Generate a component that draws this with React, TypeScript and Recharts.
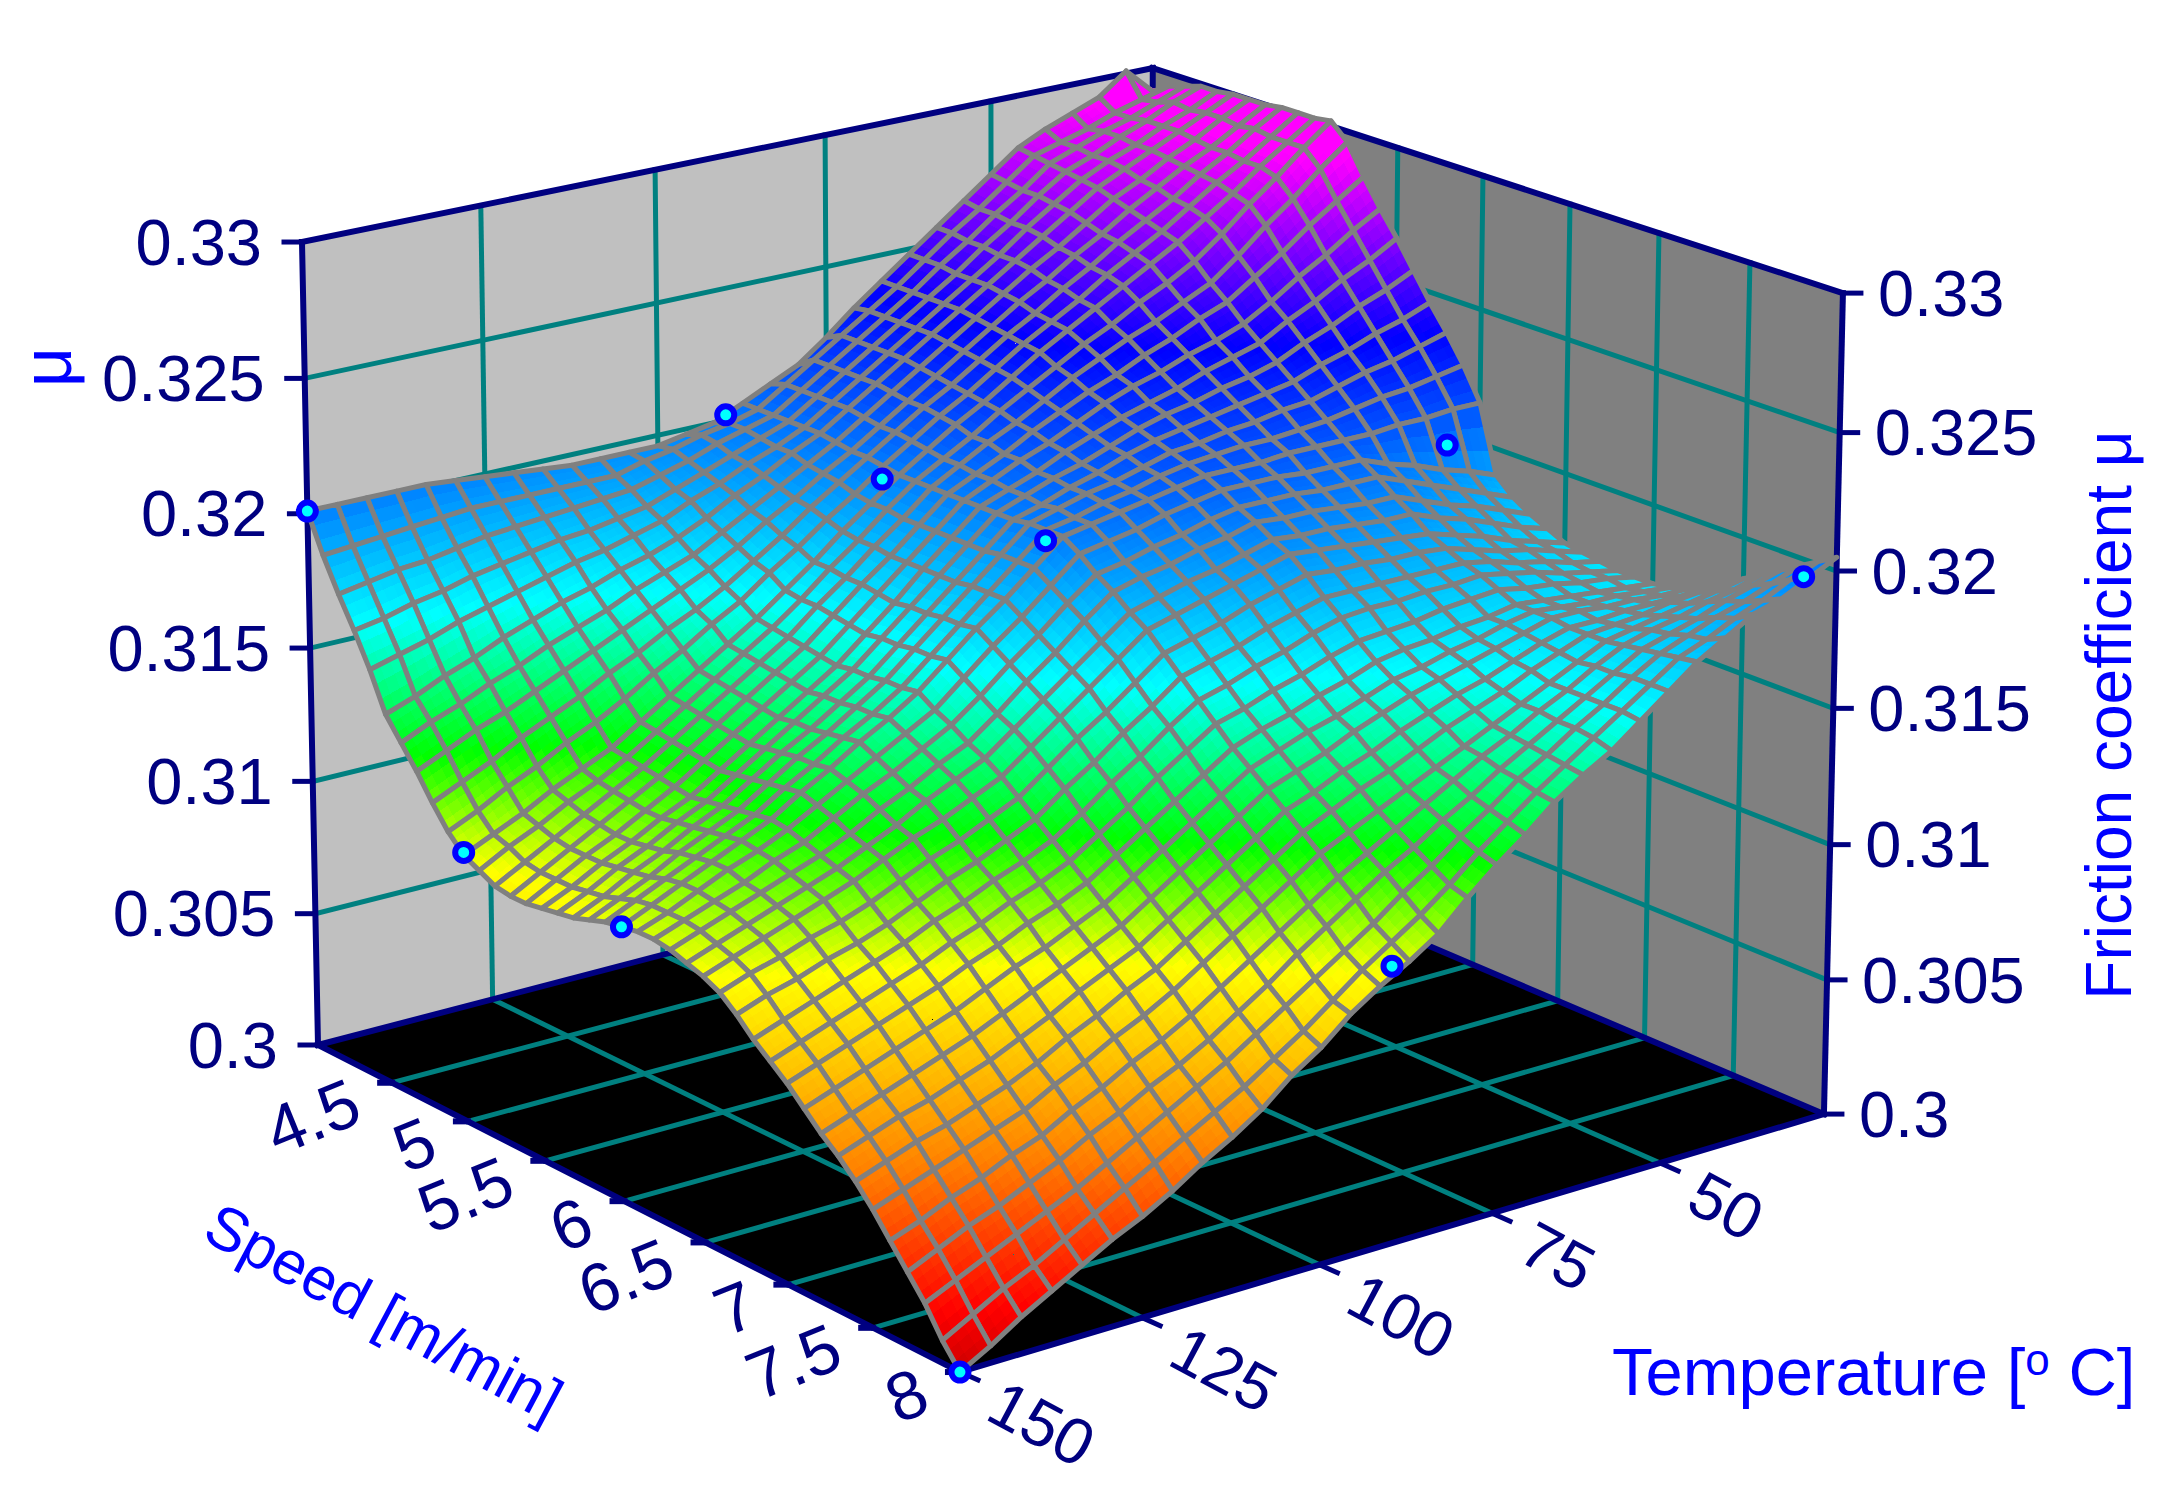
import React from 'react';
import { ScatterChart, Scatter, XAxis, YAxis } from 'recharts';

const W = 2178;
const H = 1486;

// tick labels
const muTicks = [0.3, 0.305, 0.31, 0.315, 0.32, 0.325, 0.33];
const speedTicks = [4.5, 5, 5.5, 6, 6.5, 7, 7.5, 8];
const tempTicks = [150, 125, 100, 75, 50];

// measured points (friction coefficient)
const pointSpeeds = [4, 5, 6, 8, 4, 5, 6, 8, 6, 8];
const pointTemps = [150, 150, 150, 150, 90, 90, 90, 90, 30, 30];
const pointMu = [0.3201, 0.31, 0.31, 0.3, 0.3202, 0.3201, 0.3202, 0.31, 0.3202, 0.3201];

// surface: mu above 0.3 in units of 0.0001
// one row per temperature step (150 down to 25), one column per speed step (4 to 8)
const muRows = [
  [201,187,175,164,152,138,130,122,113,105,99,96,93,92,92,93,94,95,97,99,100,101,101,100,98,96,93,88,82,77,72,66,60,55,49,42,34,26,18,8,0],
  [201,188,177,166,155,142,135,127,118,110,104,102,99,98,98,98,99,100,102,104,105,105,105,104,102,100,97,92,86,81,76,70,64,59,53,46,38,31,23,14,6],
  [201,189,179,169,158,147,139,132,123,116,109,107,105,104,104,104,105,106,107,109,110,110,109,108,106,104,100,95,90,85,80,74,68,63,57,50,43,36,28,20,13],
  [201,190,180,171,162,151,144,136,129,121,115,113,111,110,109,109,110,111,113,114,115,115,113,112,110,108,104,99,94,89,84,78,72,66,60,54,47,40,33,25,19],
  [201,191,182,174,165,156,148,141,134,127,120,118,117,116,115,115,116,117,118,119,120,119,118,116,114,112,107,102,98,93,88,82,76,70,64,58,52,45,38,31,25],
  [200,192,184,176,168,160,153,146,139,132,125,124,123,122,121,120,121,122,123,124,125,124,122,120,118,116,111,106,102,97,92,86,80,74,68,62,56,50,43,37,31],
  [199,192,185,178,171,164,157,151,145,138,132,131,130,129,128,127,128,129,130,131,132,130,128,125,123,121,116,111,107,102,97,91,85,79,73,68,62,56,49,43,36],
  [198,192,186,180,174,167,161,156,150,145,139,138,137,136,135,134,135,136,137,137,138,136,134,131,128,126,121,116,111,106,101,96,90,84,79,73,67,61,55,49,42],
  [197,192,187,181,176,171,166,161,156,151,146,145,144,143,142,141,142,142,143,144,145,142,139,136,134,130,125,120,116,111,106,100,95,90,84,79,73,67,61,55,49],
  [196,192,188,183,179,174,170,166,161,158,153,152,151,150,149,148,149,149,150,150,151,148,145,142,139,135,130,125,120,115,110,105,100,95,90,84,78,72,67,61,55],
  [196,192,189,185,182,178,174,171,167,164,160,159,158,157,156,155,156,156,157,157,158,154,151,147,144,140,135,130,125,120,115,110,105,100,95,90,84,78,73,67,62],
  [196,195,192,189,187,183,180,177,174,172,168,167,167,166,165,164,165,165,166,166,167,163,159,155,152,148,143,138,132,127,122,117,112,107,102,97,91,85,80,74,71],
  [196,197,195,193,191,189,186,184,181,179,176,176,175,175,174,173,174,174,175,175,176,172,168,164,160,156,151,145,140,134,129,124,119,114,109,104,98,92,87,81,78],
  [198,200,199,197,196,194,192,190,189,187,185,184,184,183,183,183,183,183,184,184,184,180,176,172,168,164,158,153,147,142,136,131,126,121,116,111,105,100,94,89,87],
  [200,202,202,201,200,200,198,197,196,194,193,193,192,192,192,192,192,192,193,193,193,189,185,181,176,172,166,160,155,149,143,138,133,128,123,118,112,107,101,97,94],
  [205,205,205,205,205,205,204,203,203,202,201,201,201,201,201,201,201,201,202,202,202,198,193,189,184,180,174,168,162,156,150,145,140,135,130,125,119,114,108,104,100],
  [210,212,212,212,212,212,211,210,210,209,208,207,207,206,206,205,205,204,205,204,204,200,195,192,187,183,177,171,165,159,154,149,144,139,135,130,125,121,116,111,107],
  [215,219,219,219,219,219,218,217,217,216,215,213,213,211,211,209,209,208,208,207,206,202,198,194,190,186,180,174,169,163,157,153,148,144,140,135,131,127,123,119,117],
  [223,226,226,226,226,226,225,224,223,222,221,220,218,217,215,214,212,211,210,209,208,205,200,197,192,189,184,178,172,166,161,156,153,148,144,140,137,134,131,128,126],
  [232,233,233,233,233,233,232,231,230,229,228,226,224,222,220,218,216,215,213,212,210,207,203,199,195,192,187,181,176,170,164,160,157,153,149,145,143,140,138,136,134],
  [240,240,240,240,240,240,239,238,237,236,235,232,230,227,225,222,220,218,216,214,212,209,205,202,198,195,190,184,179,173,168,164,161,157,154,150,149,147,146,144,143],
  [248,248,248,247,247,247,246,245,243,242,241,238,235,231,229,225,223,220,217,215,212,209,205,201,197,194,189,184,180,174,170,166,164,161,158,155,154,153,152,151,150],
  [256,256,255,255,254,254,253,251,250,248,247,243,240,236,232,228,225,222,219,216,212,209,205,201,197,193,189,184,180,175,171,169,167,164,162,160,160,159,159,158,156],
  [264,263,263,262,262,261,259,258,256,255,253,249,244,240,236,232,228,224,220,216,213,208,204,200,196,192,188,184,181,177,173,171,170,168,167,165,165,165,165,165,164],
  [272,271,270,270,269,268,266,264,263,261,259,254,249,245,239,235,230,226,222,217,213,208,204,199,195,191,188,184,181,178,174,174,173,172,171,170,171,171,172,172,172],
  [280,279,278,277,276,275,273,271,269,267,265,260,254,249,243,238,233,228,223,218,213,208,204,199,195,190,187,184,182,179,176,176,176,175,175,175,176,177,178,179,180],
  [285,282,282,281,281,280,278,277,275,274,272,268,262,256,249,244,238,232,226,220,213,204,200,195,191,187,184,182,180,177,175,175,176,175,176,177,179,180,182,183,186],
  [289,285,286,286,285,285,284,283,282,281,279,277,271,263,256,249,242,235,229,222,214,201,196,191,188,184,181,179,178,176,174,174,175,176,177,179,181,183,186,188,192],
  [293,289,289,290,290,290,289,288,288,287,287,285,279,271,262,255,247,239,231,223,214,197,192,188,184,180,179,177,175,174,173,174,175,176,179,181,184,187,189,192,195],
  [301,292,293,295,294,295,295,294,295,294,294,294,288,278,269,260,251,242,234,225,215,194,188,184,180,177,176,174,173,173,172,173,174,176,180,183,186,190,193,197,200],
  [291,295,297,299,299,300,300,300,301,301,301,302,296,285,275,266,256,246,237,227,215,190,184,180,177,174,173,172,171,171,171,172,174,177,181,185,189,193,197,201,205],
];

const NAVY = '#000080';
const TEAL = '#008080';
const BLUE = '#0000FF';
const FONT = '"Liberation Sans", Arial, sans-serif';

// box coordinates: speed 4..8, temperature 150..25, mu 0.3..0.33
const project = (speed: number, temp: number, mu: number) => {
  const u = (speed - 4) / 4;
  const v = (150 - temp) / 125;
  const w = (mu - 0.3) / 0.03;
  const d = 1 - 0.08611 * u + 0.06279 * v - 0.02242 * w;
  return {
    x: (318 + 559.3 * u + 904.1 * v - 22.77 * w) / d,
    y: (1045 + 208.9 * u - 165.8 * v - 808.4 * w) / d,
  };
};

// colour scale of the surface
const colourStops: [number, number[]][] = [
  [0, [205, 0, 0]],
  [0.05, [255, 0, 0]],
  [0.17, [255, 128, 0]],
  [0.32, [255, 255, 0]],
  [0.42, [0, 255, 0]],
  [0.55, [0, 255, 255]],
  [0.79, [0, 0, 255]],
  [0.97, [255, 0, 255]],
  [1.1, [255, 0, 255]],
];

const colourAt = (offset: number) => {
  const w = Math.min(1, Math.max(0, offset / 300));
  let k = 0;
  while (k < colourStops.length - 2 && w > colourStops[k + 1][0]) k++;
  const [a, ca] = colourStops[k];
  const [b, cb] = colourStops[k + 1];
  const t = (w - a) / (b - a);
  return `rgb(${ca.map((c, n) => Math.round(c + (cb[n] - c) * t)).join(',')})`;
};

const nodeSpeed = (i: number) => 4 + i / 10;
const nodeTemp = (j: number) => 150 - (j * 125) / 30;
const at = (s: number, t: number, o: number) => project(s, t, 0.3 + o / 10000);

const STEPS = 3;

// one mesh cell: corners plus small coloured pieces inside it
const buildCell = (i: number, j: number) => {
  const s0 = nodeSpeed(i);
  const s1 = nodeSpeed(i + 1);
  const t0 = nodeTemp(j);
  const t1 = nodeTemp(j + 1);
  const o00 = muRows[j][i];
  const o10 = muRows[j][i + 1];
  const o01 = muRows[j + 1][i];
  const o11 = muRows[j + 1][i + 1];
  const node = (a: number, b: number) => {
    const o = o00 * (1 - a) * (1 - b) + o10 * a * (1 - b) + o01 * (1 - a) * b + o11 * a * b;
    return { p: at(s0 + (s1 - s0) * a, t0 + (t1 - t0) * b, o), o };
  };
  const outline = [node(0, 0).p, node(1, 0).p, node(1, 1).p, node(0, 1).p];
  const pieces: { pts: { x: number; y: number }[]; fill: string }[] = [];
  for (let a = 0; a < STEPS; a++) {
    for (let b = 0; b < STEPS; b++) {
      const n = [
        node(a / STEPS, b / STEPS),
        node((a + 1) / STEPS, b / STEPS),
        node((a + 1) / STEPS, (b + 1) / STEPS),
        node(a / STEPS, (b + 1) / STEPS),
      ];
      pieces.push({ pts: n.map((q) => q.p), fill: colourAt((n[0].o + n[1].o + n[2].o + n[3].o) / 4) });
    }
  }
  const c = node(0.5, 0.5).p;
  return { px: c.x, py: c.y, outline, pieces };
};

// far corner first, so nearer cells paint over farther ones
const cells: any[] = [];
for (let i = 0; i < 40; i++) {
  for (let j = 29; j >= 0; j--) cells.push(buildCell(i, j));
}

const shift = (props: any, pts: { x: number; y: number }[]) => {
  const dx = props.cx - props.payload.px;
  const dy = props.cy - props.payload.py;
  return pts.map((p) => `${p.x + dx},${p.y + dy}`).join(' ');
};

const CellShape = (props: any) => (
  <g>
    {props.payload.pieces.map((piece: any, n: number) => (
      <polygon key={n} points={shift(props, piece.pts)} fill={piece.fill} shapeRendering="crispEdges" />
    ))}
    <polygon points={shift(props, props.payload.outline)} fill="none" stroke="#808080" strokeWidth={5} strokeLinejoin="round" />
  </g>
);

const plane = (pts: { x: number; y: number }[], fill: string) => ({
  px: pts[0].x,
  py: pts[0].y,
  pts,
  fill,
});

const PlaneShape = (props: any) => <polygon points={shift(props, props.payload.pts)} fill={props.payload.fill} />;

const seg = (a: { x: number; y: number }, b: { x: number; y: number }, stroke: string, width: number) => ({
  px: a.x,
  py: a.y,
  pts: [a, b],
  stroke,
  width,
});

const SegShape = (props: any) => (
  <polyline
    points={shift(props, props.payload.pts)}
    stroke={props.payload.stroke}
    strokeWidth={props.payload.width}
    fill="none"
    strokeLinecap="square"
  />
);

const O = project(4, 150, 0.3);
const A = project(8, 150, 0.3);
const B = project(8, 25, 0.3);
const F = project(4, 25, 0.3);
const C = project(4, 150, 0.33);
const D = project(4, 25, 0.33);
const E = project(8, 25, 0.33);

const planes = [plane([O, C, D, F], '#C0C0C0'), plane([F, D, E, B], '#808080'), plane([O, A, B, F], '#000000')];

const gridLines: any[] = [];
muTicks.slice(1, -1).forEach((m) => {
  gridLines.push(seg(project(4, 150, m), project(4, 25, m), TEAL, 5));
  gridLines.push(seg(project(4, 25, m), project(8, 25, m), TEAL, 5));
});
tempTicks.slice(1).forEach((t) => {
  gridLines.push(seg(project(4, t, 0.3), project(4, t, 0.33), TEAL, 5));
  gridLines.push(seg(project(4, t, 0.3), project(8, t, 0.3), TEAL, 5));
});
speedTicks.slice(0, -1).forEach((s) => {
  gridLines.push(seg(project(s, 150, 0.3), project(s, 25, 0.3), TEAL, 5));
  gridLines.push(seg(project(s, 25, 0.3), project(s, 25, 0.33), TEAL, 5));
});

const frameLines = [
  seg(O, C, NAVY, 6),
  seg(C, D, NAVY, 6),
  seg(D, E, NAVY, 6),
  seg(E, B, NAVY, 6),
  seg(O, A, NAVY, 6),
  seg(A, B, NAVY, 6),
  seg(O, F, NAVY, 6),
  seg(F, B, NAVY, 6),
  seg(F, D, NAVY, 6),
];
muTicks.forEach((m) => {
  const l = project(4, 150, m);
  const r = project(8, 25, m);
  frameLines.push(seg({ x: l.x - 18, y: l.y }, l, NAVY, 5));
  frameLines.push(seg(r, { x: r.x + 18, y: r.y }, NAVY, 5));
});
speedTicks.forEach((s) => {
  const p = project(s, 150, 0.3);
  frameLines.push(seg({ x: p.x - 12, y: p.y }, p, NAVY, 6));
});
tempTicks.forEach((t) => {
  const p = project(8, t, 0.3);
  frameLines.push(seg(p, { x: p.x + 18, y: p.y + 8 }, NAVY, 5));
});

const label = (x: number, y: number, text: string, anchor: string, angle: number, fill: string, size = 65) => ({
  px: x,
  py: y,
  text,
  anchor,
  angle,
  fill,
  size,
});

const labels = [
  ...muTicks.map((m) => {
    const p = project(4, 150, m);
    return label(p.x - 40, p.y, String(m), 'end', 0, NAVY);
  }),
  ...muTicks.map((m) => {
    const p = project(8, 25, m);
    return label(p.x + 35, p.y, String(m), 'start', 0, NAVY);
  }),
  ...speedTicks.map((s) => {
    const p = project(s, 150, 0.3);
    return label(p.x - 36, p.y + 16, String(s), 'end', -22, NAVY, 68);
  }),
  ...tempTicks.map((t) => {
    const p = project(8, t, 0.3);
    return label(p.x + 34, p.y + 26, String(t), 'start', 28, NAVY);
  }),
  label(384, 1312, 'Speed [m/min]', 'middle', 28, BLUE, 61),
  label(2109, 715, 'Friction coefficient μ', 'middle', -90, BLUE, 64),
  label(46, 367, 'μ', 'middle', -90, BLUE, 70),
];

const LabelShape = (props: any) => {
  const { text, anchor, angle, fill, size } = props.payload;
  return (
    <text
      x={props.cx}
      y={props.cy}
      dy="0.35em"
      textAnchor={anchor}
      fontFamily={FONT}
      fontSize={size}
      fill={fill}
      transform={angle ? `rotate(${angle} ${props.cx} ${props.cy})` : undefined}
    >
      {text}
    </text>
  );
};

const TempTitleShape = (props: any) => (
  <text x={props.cx} y={props.cy} fontFamily={FONT} fontSize={67} fill={BLUE}>
    Temperature [<tspan fontSize={44} dy={-20}>o</tspan>
    <tspan dy={20}> C]</tspan>
  </text>
);

const tempTitle = [{ px: 1612, py: 1395 }];

const points = pointSpeeds.map((s, n) => {
  const p = project(s, pointTemps[n], pointMu[n]);
  return { px: p.x, py: p.y };
});

const PointShape = (props: any) => (
  <circle cx={props.cx} cy={props.cy} r={8.5} fill="#00FFFF" stroke={BLUE} strokeWidth={6} />
);

export default function App() {
  return (
    <div style={{ position: 'absolute', left: 0, top: 0, width: W, height: H, background: '#fff' }}>
      <ScatterChart width={W} height={H} margin={{ top: 0, right: 0, bottom: 0, left: 0 }}>
        <XAxis type="number" dataKey="px" domain={[0, W]} hide allowDataOverflow />
        <YAxis type="number" dataKey="py" domain={[0, H]} reversed hide allowDataOverflow />
        <Scatter data={planes} shape={PlaneShape} isAnimationActive={false} />
        <Scatter data={gridLines} shape={SegShape} isAnimationActive={false} />
        <Scatter data={frameLines} shape={SegShape} isAnimationActive={false} />
        <Scatter data={labels} shape={LabelShape} isAnimationActive={false} />
        <Scatter data={tempTitle} shape={TempTitleShape} isAnimationActive={false} />
        <Scatter data={cells} shape={CellShape} isAnimationActive={false} />
        <Scatter data={points} shape={PointShape} isAnimationActive={false} />
      </ScatterChart>
    </div>
  );
}
